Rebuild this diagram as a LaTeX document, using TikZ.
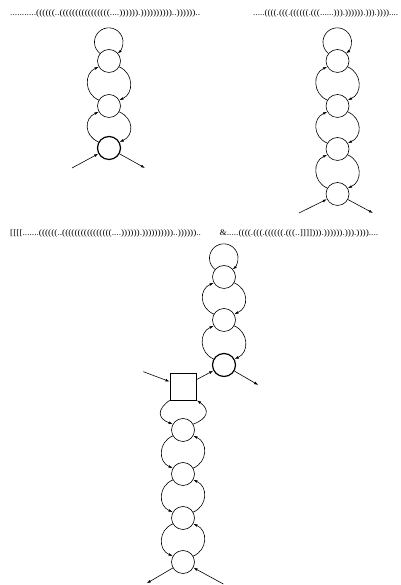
\documentclass[tikz,border=0pt]{standalone}
\usepackage{fontspec}
\setmainfont{Liberation Serif}
\usetikzlibrary{arrows.meta}
\tikzset{
  loopnode/.style={circle, draw, line width=0.6pt, minimum size=23pt, inner sep=0pt},
  boldnode/.style={loopnode, line width=1.2pt},
  boxnode/.style={rectangle, draw, line width=0.6pt, minimum size=26.7pt, inner sep=0pt},
  conn/.style={line width=0.6pt, -{Latex[length=4.2pt,width=2.8pt]}},
  seqtext/.style={anchor=west, inner sep=0pt},
}
\newcommand\hxdown[2]{%
  \draw[conn] (#2.150) to[out=157,in=203,out distance=16pt,in distance=16pt] (#1.210);
  \draw[conn] (#1.-30) to[out=-23,in=23,out distance=16pt,in distance=16pt] (#2.30);
}
\newcommand\hxup[2]{%
  \draw[conn] (#1.210) to[out=203,in=157,out distance=16pt,in distance=16pt] (#2.150);
  \draw[conn] (#2.30) to[out=23,in=-23,out distance=16pt,in distance=16pt] (#1.-30);
}
\newcommand\hploop[1]{%
  \draw[conn] (#1.140) arc[start angle=232, end angle=-52, radius=14.3pt];
}
\begin{document}
\begin{tikzpicture}[x=1pt,y=1pt]
\useasboundingbox (0,0) rectangle (400,585);

% texts
\node[seqtext] (t1) at (10,571.5) {\resizebox{190pt}{5.8pt}{...........((((((..((((((((((((((((....)))))).))))))))))..))))))..}};
\node[seqtext] (t2) at (253,571.5) {\resizebox{145pt}{5.8pt}{.....((((.(((.((((((.(((......))).)))))).))).))))....}};
\node[seqtext] (t3) at (10,352) {\resizebox{368pt}{5.8pt}{[[[[.......((((((..((((((((((((((((....)))))).))))))))))..))))))..\hspace{2em}\&.....((((.(((.((((((.(((..]]]]))).)))))).))).))))....}};

% diagram 1
\node[loopnode] (A1) at (109,524) {};
\node[loopnode] (A2) at (109,479) {};
\node[boldnode] (A3) at (109,437) {};
\hploop{A1}
\hxdown{A1}{A2}
\hxdown{A2}{A3}
\coordinate (i1) at (72,417);
\coordinate (o1) at (145,417);
\draw[conn] (i1) -- (A3);
\draw[conn] (A3) -- (o1);

% diagram 2
\node[loopnode] (B1) at (337.5,524) {};
\node[loopnode] (B2) at (337.5,479) {};
\node[loopnode] (B3) at (337.5,436) {};
\node[loopnode] (B4) at (337.5,391) {};
\hploop{B1}
\hxdown{B1}{B2}
\hxdown{B2}{B3}
\hxdown{B3}{B4}
\coordinate (i2) at (299,372);
\coordinate (o2) at (373,372);
\draw[conn] (i2) -- (B4);
\draw[conn] (B4) -- (o2);

% diagram 3 upper chain
\node[loopnode] (C1) at (224,308) {};
\node[loopnode] (C2) at (224,265) {};
\node[boldnode] (C3) at (224,220) {};
\hploop{C1}
\hxdown{C1}{C2}
\hxdown{C2}{C3}
\node[boxnode] (S) at (183.3,198.3) {};
\coordinate (i3) at (143.3,213.3);
\coordinate (o3) at (258.3,200);
\draw[conn] (i3) -- (S);
\draw[conn] (S) -- (C3);
\draw[conn] (C3) -- (o3);

% diagram 3 lower chain
\node[loopnode] (D1) at (183,155) {};
\node[loopnode] (D2) at (183,111) {};
\node[loopnode] (D3) at (183,67) {};
\node[loopnode] (D4) at (183,23) {};
\draw[conn] (S.south west) to[out=215,in=160,out distance=16pt,in distance=16pt] (D1.150);
\draw[conn] (D1.30) to[out=20,in=-35,out distance=16pt,in distance=16pt] (S.south east);
\hxup{D1}{D2}
\hxup{D2}{D3}
\hxup{D3}{D4}
\coordinate (o4) at (146.7,1.7);
\coordinate (i4) at (223.3,1);
\draw[conn] (D4) -- (o4);
\draw[conn] (i4) -- (D4);
\end{tikzpicture}
\end{document}
